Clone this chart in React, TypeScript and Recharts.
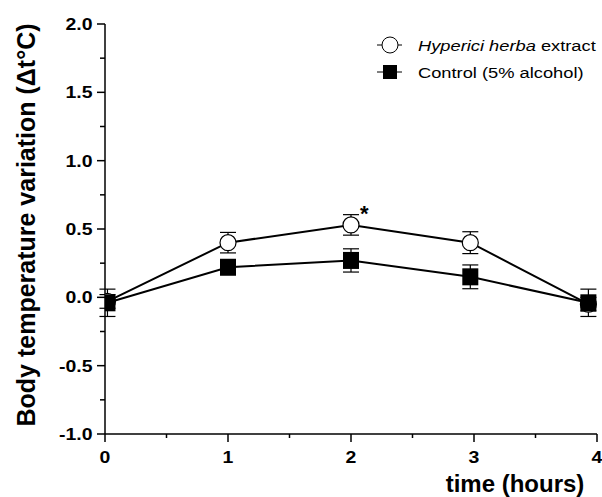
import React from "react";
import { LineChart, Line, XAxis, YAxis, ErrorBar, Legend, LabelList } from "recharts";

const times = [0.02, 1, 2, 2.97, 3.93];
const hyperici = [-0.03, 0.4, 0.53, 0.4, -0.05];
const hypericiErr = [0.05, 0.075, 0.075, 0.08, 0.05];
const control = [-0.04, 0.22, 0.27, 0.15, -0.04];
const controlErr = [0.1, 0.05, 0.085, 0.087, 0.1];
const significance = ["", "", "*", "", ""];

const xTicks = [0, 0.5, 1, 1.5, 2, 2.5, 3, 3.5, 4];
const yTicks = [-1, -0.75, -0.5, -0.25, 0, 0.25, 0.5, 0.75, 1, 1.25, 1.5, 1.75, 2];

const seriesItalic = ["Hyperici herba", ""];
const seriesRest = [" extract", "Control (5% alcohol)"];

const data = times.map((t, i) => ({
  t,
  hyp: hyperici[i],
  hypErr: hypericiErr[i],
  ctl: control[i],
  ctlErr: controlErr[i],
  sig: significance[i],
}));

const FONT = "'Liberation Sans', Arial, Helvetica, sans-serif";
const STRETCH = 1.18;

const XTick = (props: any) => {
  const { x, y, payload } = props;
  const v = payload.value as number;
  const major = Number.isInteger(v);
  return (
    <g>
      <line x1={x} x2={x} y1={y} y2={y + (major ? 8 : 4)} stroke="#000" strokeWidth={1.5} />
      {major && (
        <text
          transform={`translate(${x},${y + 28.5}) scale(${STRETCH},1)`}
          textAnchor="middle"
          fontFamily={FONT}
          fontWeight="bold"
          fontSize={16.5}
          fill="#000"
        >
          {v}
        </text>
      )}
    </g>
  );
};

const YTick = (props: any) => {
  const { x, y, payload } = props;
  const v = payload.value as number;
  const major = Number.isInteger(v * 2);
  return (
    <g>
      <line x1={x} x2={x - (major ? 8 : 5)} y1={y} y2={y} stroke="#000" strokeWidth={1.5} />
      {major && (
        <text
          transform={`translate(${x - 12.5},${y + 6}) scale(${STRETCH},1)`}
          textAnchor="end"
          fontFamily={FONT}
          fontWeight="bold"
          fontSize={16.5}
          fill="#000"
        >
          {v.toFixed(1)}
        </text>
      )}
    </g>
  );
};

const CircleDot = (props: any) => {
  const { cx, cy, index } = props;
  return <circle key={`c-${index}`} cx={cx} cy={cy} r={8} fill="#fff" stroke="#000" strokeWidth={1.2} />;
};

const SquareDot = (props: any) => {
  const { cx, cy, index } = props;
  return <rect key={`s-${index}`} x={cx - 8} y={cy - 8.5} width={16} height={17} fill="#000" />;
};

const LegendContent = () => (
  <svg width={232} height={60} style={{ display: "block" }}>
    <line x1={7} x2={32} y1={15} y2={15} stroke="#000" strokeWidth={1} />
    <circle cx={20} cy={15} r={8} fill="#fff" stroke="#000" strokeWidth={1} />
    <text transform={`translate(48,20.5) scale(1.18,1)`} fontFamily={FONT} fontSize={15.5} fill="#000">
      <tspan fontStyle="italic">{seriesItalic[0]}</tspan>
      <tspan>{seriesRest[0]}</tspan>
    </text>
    <line x1={7} x2={32} y1={42} y2={42} stroke="#000" strokeWidth={1} />
    <rect x={13} y={35} width={14} height={14} fill="#000" />
    <text transform={`translate(48,47.5) scale(1.18,1)`} fontFamily={FONT} fontSize={15.5} fill="#000">
      {seriesItalic[1]}
      {seriesRest[1]}
    </text>
  </svg>
);

const SigLabel = (props: any) => {
  const { x, y, value } = props;
  if (!value) return null;
  return (
    <text x={x + 9} y={y - 4} fontFamily={FONT} fontWeight="bold" fontSize={22} fill="#000">
      {value}
    </text>
  );
};

export default function App() {
  return (
    <div style={{ position: "absolute", left: 0, top: 0, width: 602, height: 497, background: "#fff" }}>
      <LineChart width={602} height={497} data={data} margin={{ top: 24, right: 5, bottom: 0, left: 0 }}>
        <XAxis
          dataKey="t"
          type="number"
          domain={[0, 4]}
          ticks={xTicks}
          interval={0}
          height={63}
          tickSize={0}
          tickMargin={0}
          tickLine={false}
          tick={<XTick />}
          axisLine={{ stroke: "#000", strokeWidth: 1.5 }}
          allowDataOverflow
        />
        <YAxis
          type="number"
          domain={[-1, 2]}
          ticks={yTicks}
          interval={0}
          width={105}
          tickSize={0}
          tickMargin={0}
          tickLine={false}
          tick={<YTick />}
          axisLine={{ stroke: "#000", strokeWidth: 1.5 }}
          allowDataOverflow
        />
        <Legend
          layout="vertical"
          align="center"
          verticalAlign="middle"
          content={<LegendContent />}
          wrapperStyle={{ left: 370, top: 30, width: 232, height: 60 }}
        />
        <Line
          dataKey="hyp"
          stroke="#000"
          strokeWidth={2}
          dot={<CircleDot />}
          activeDot={false}
          isAnimationActive={false}
        >
          <ErrorBar dataKey="hypErr" width={8} stroke="#000" strokeWidth={1.2} />
          <LabelList dataKey="sig" content={<SigLabel />} />
        </Line>
        <Line
          dataKey="ctl"
          stroke="#000"
          strokeWidth={2}
          dot={<SquareDot />}
          activeDot={false}
          isAnimationActive={false}
        >
          <ErrorBar dataKey="ctlErr" width={8} stroke="#000" strokeWidth={1.2} />
        </Line>
        <text
          x={0}
          y={0}
          transform="translate(35,225) rotate(-90)"
          textAnchor="middle"
          fontFamily={FONT}
          fontWeight="bold"
          fontSize={25}
          fill="#000"
        >
          Body temperature variation (Δt°C)
        </text>
        <text x={515} y={492} textAnchor="middle" fontFamily={FONT} fontWeight="bold" fontSize={24} fill="#000">
          time (hours)
        </text>
      </LineChart>
    </div>
  );
}
